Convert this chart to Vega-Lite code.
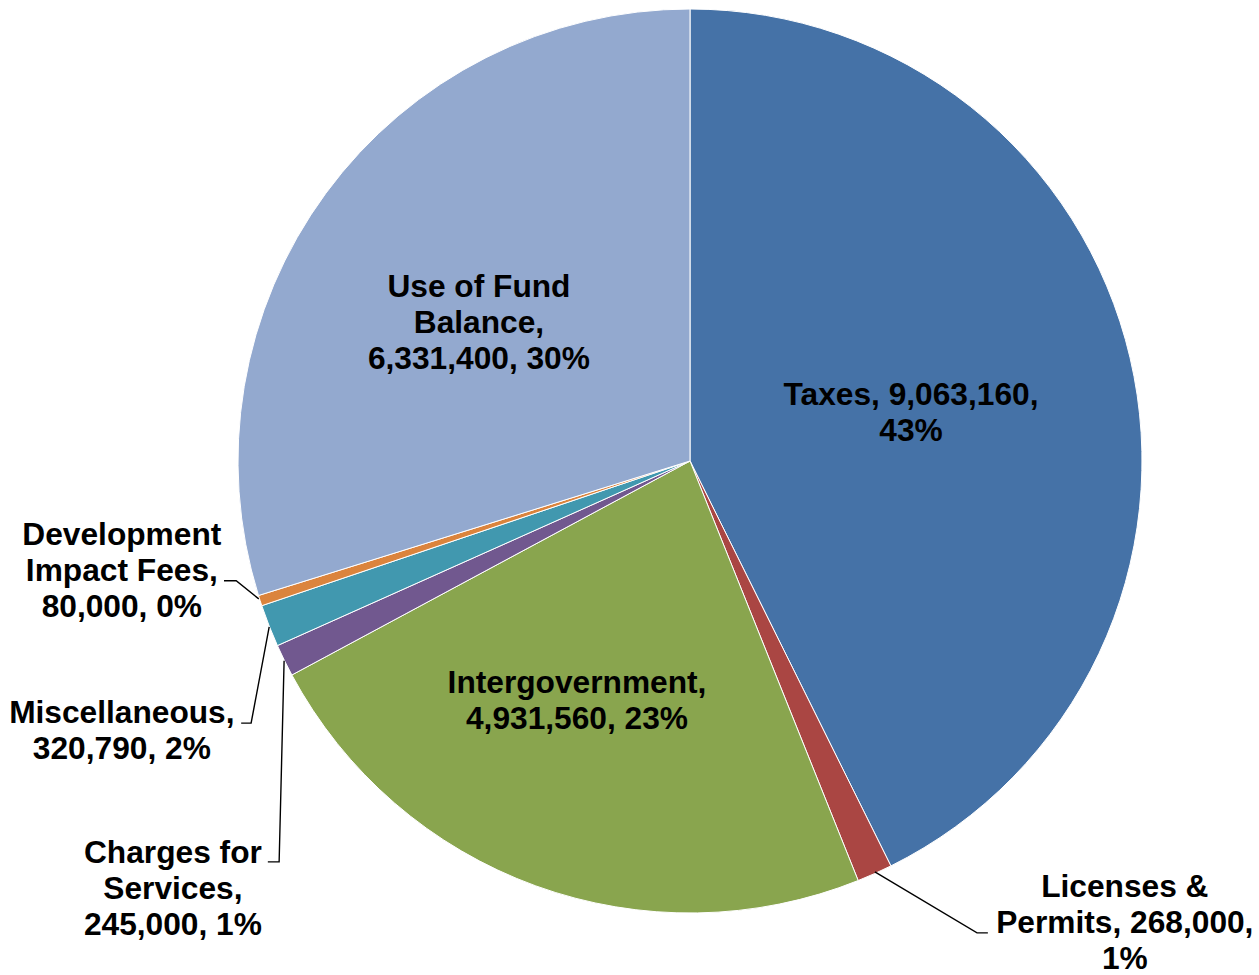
{
  "$schema": "https://vega.github.io/schema/vega-lite/v6.json",
  "width": 1259,
  "height": 975,
  "autosize": {"type": "none"},
  "padding": 0,
  "background": "white",
  "config": {"view": {"stroke": null}},
  "datasets": {
    "slices": [
      {"category": "Taxes", "amount": 9063160, "order": 1},
      {"category": "Licenses & Permits", "amount": 268000, "order": 2},
      {"category": "Intergovernment", "amount": 4931560, "order": 3},
      {"category": "Charges for Services", "amount": 245000, "order": 4},
      {"category": "Miscellaneous", "amount": 320790, "order": 5},
      {"category": "Development Impact Fees", "amount": 80000, "order": 6},
      {"category": "Use of Fund Balance", "amount": 6331400, "order": 7}
    ],
    "labels": [
      {"category": "Taxes", "text": "Taxes, 9,063,160,\n43%", "x": 0.489, "y": 0.1465},
      {"category": "Use of Fund Balance", "text": "Use of Fund\nBalance,\n6,331,400, 30%", "x": -0.467, "y": 0.3855},
      {"category": "Intergovernment", "text": "Intergovernment,\n4,931,560, 23%", "x": -0.25, "y": -0.4915},
      {"category": "Licenses & Permits", "text": "Licenses &\nPermits, 268,000,\n1%", "x": 0.962, "y": -0.9425},
      {"category": "Development Impact Fees", "text": "Development\nImpact Fees,\n80,000, 0%", "x": -1.257, "y": -0.1635},
      {"category": "Miscellaneous", "text": "Miscellaneous,\n320,790, 2%", "x": -1.257, "y": -0.5575},
      {"category": "Charges for Services", "text": "Charges for\nServices,\n245,000, 1%", "x": -1.144, "y": -0.8675}
    ],
    "leaders": [
      {"category": "Licenses & Permits", "step": 1, "x": 0.409, "y": -0.909},
      {"category": "Licenses & Permits", "step": 2, "x": 0.635, "y": -1.044},
      {"category": "Licenses & Permits", "step": 3, "x": 0.659, "y": -1.044},
      {"category": "Development Impact Fees", "step": 1, "x": -0.954, "y": -0.305},
      {"category": "Development Impact Fees", "step": 2, "x": -1.004, "y": -0.265},
      {"category": "Development Impact Fees", "step": 3, "x": -1.031, "y": -0.265},
      {"category": "Miscellaneous", "step": 1, "x": -0.931, "y": -0.367},
      {"category": "Miscellaneous", "step": 2, "x": -0.971, "y": -0.58},
      {"category": "Miscellaneous", "step": 3, "x": -0.993, "y": -0.58},
      {"category": "Charges for Services", "step": 1, "x": -0.898, "y": -0.442},
      {"category": "Charges for Services", "step": 2, "x": -0.909, "y": -0.887},
      {"category": "Charges for Services", "step": 3, "x": -0.934, "y": -0.887}
    ]
  },
  "layer": [
    {
      "data": {"name": "slices"},
      "mark": {"type": "arc", "outerRadius": 452, "stroke": "#ffffff", "strokeWidth": 1},
      "encoding": {
        "theta": {"field": "amount", "type": "quantitative", "stack": true},
        "order": {"field": "order", "type": "quantitative"},
        "color": {
          "field": "category",
          "type": "nominal",
          "scale": {
            "domain": ["Taxes", "Licenses & Permits", "Intergovernment", "Charges for Services", "Miscellaneous", "Development Impact Fees", "Use of Fund Balance"],
            "range": ["#4572A7", "#AA4643", "#89A54E", "#71588F", "#4198AF", "#DB843D", "#93A9CF"]
          },
          "legend": null
        },
        "x": {"datum": 0, "type": "quantitative", "scale": {"domain": [-1.52655, 1.25885], "nice": false, "zero": false}, "axis": null},
        "y": {"datum": 0, "type": "quantitative", "scale": {"domain": [-1.13717, 1.01991], "nice": false, "zero": false}, "axis": null}
      }
    },
    {
      "data": {"name": "leaders"},
      "mark": {"type": "line", "color": "#000000", "strokeWidth": 1.4},
      "encoding": {
        "x": {"field": "x", "type": "quantitative", "scale": {"domain": [-1.52655, 1.25885], "nice": false, "zero": false}, "axis": null},
        "y": {"field": "y", "type": "quantitative", "scale": {"domain": [-1.13717, 1.01991], "nice": false, "zero": false}, "axis": null},
        "detail": {"field": "category", "type": "nominal"},
        "order": {"field": "step", "type": "quantitative"}
      }
    },
    {
      "data": {"name": "labels"},
      "mark": {"type": "text", "font": "Liberation Sans", "fontWeight": "bold", "fontSize": 31.7, "lineBreak": "\n", "lineHeight": 36, "align": "center", "baseline": "middle", "color": "#000000"},
      "encoding": {
        "x": {"field": "x", "type": "quantitative", "scale": {"domain": [-1.52655, 1.25885], "nice": false, "zero": false}, "axis": null},
        "y": {"field": "y", "type": "quantitative", "scale": {"domain": [-1.13717, 1.01991], "nice": false, "zero": false}, "axis": null},
        "text": {"field": "text", "type": "nominal"}
      }
    }
  ]
}
